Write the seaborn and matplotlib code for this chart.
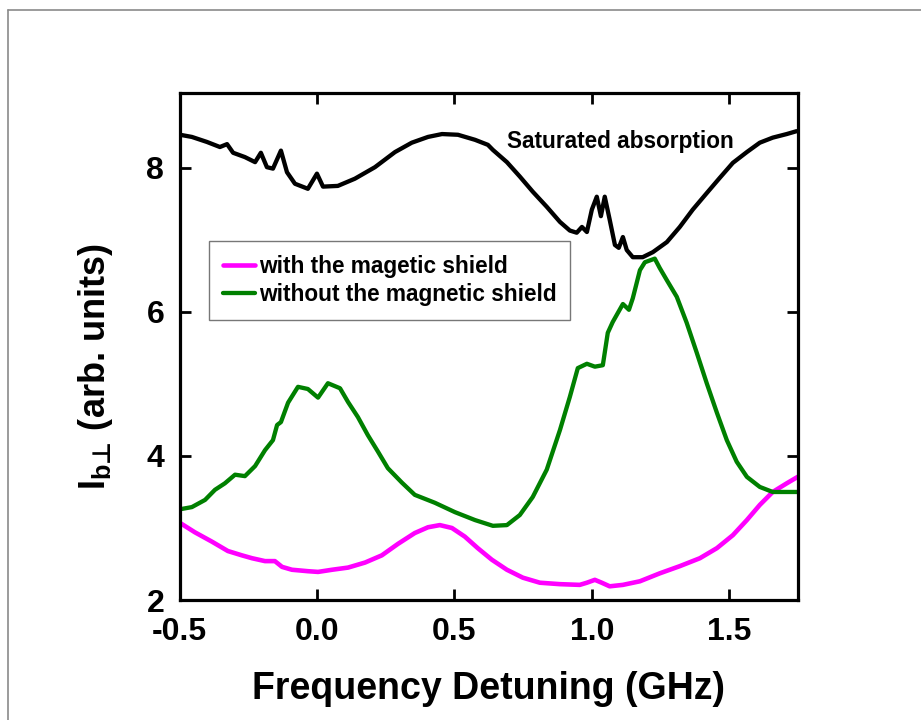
import numpy as np
import pandas as pd
import matplotlib
matplotlib.use("Agg")
import matplotlib.pyplot as plt
from matplotlib.lines import Line2D
import seaborn as sns

sat_x = [-0.498, -0.455, -0.400, -0.353, -0.327, -0.305, -0.262, -0.225, -0.204, -0.182,
         -0.160, -0.131, -0.109, -0.080, -0.033, 0.000, 0.022, 0.076, 0.138, 0.211,
         0.284, 0.345, 0.404, 0.455, 0.513, 0.575, 0.622, 0.640, 0.691, 0.738,
         0.785, 0.836, 0.884, 0.920, 0.945, 0.964, 0.982, 1.000, 1.018, 1.033,
         1.047, 1.065, 1.084, 1.098, 1.113, 1.127, 1.149, 1.185, 1.222, 1.273,
         1.320, 1.367, 1.418, 1.465, 1.513, 1.564, 1.611, 1.658, 1.709, 1.745]
sat_y = [8.46, 8.43, 8.36, 8.29, 8.33, 8.21, 8.15, 8.08, 8.21, 8.01,
         7.99, 8.24, 7.94, 7.78, 7.71, 7.92, 7.74, 7.75, 7.85, 8.01,
         8.22, 8.35, 8.43, 8.47, 8.46, 8.39, 8.32, 8.25, 8.08, 7.88,
         7.67, 7.46, 7.25, 7.13, 7.10, 7.18, 7.11, 7.42, 7.60, 7.33,
         7.60, 7.28, 6.93, 6.89, 7.04, 6.86, 6.76, 6.76, 6.83, 6.97,
         7.18, 7.42, 7.65, 7.86, 8.07, 8.22, 8.35, 8.42, 8.47, 8.51]

without_x = [-0.498, -0.455, -0.407, -0.371, -0.335, -0.298, -0.262, -0.225, -0.189, -0.160,
             -0.145, -0.131, -0.105, -0.069, -0.033, 0.004, 0.040, 0.084, 0.113, 0.149,
             0.185, 0.222, 0.258, 0.309, 0.356, 0.429, 0.502, 0.575, 0.640, 0.691,
             0.738, 0.785, 0.836, 0.884, 0.920, 0.949, 0.982, 1.011, 1.040, 1.058,
             1.076, 1.113, 1.135, 1.149, 1.175, 1.193, 1.229, 1.247, 1.273, 1.309,
             1.345, 1.382, 1.418, 1.455, 1.491, 1.527, 1.564, 1.611, 1.658, 1.749]
without_y = [3.26, 3.29, 3.39, 3.53, 3.62, 3.74, 3.72, 3.86, 4.08, 4.22,
             4.43, 4.47, 4.74, 4.96, 4.93, 4.81, 5.01, 4.94, 4.75, 4.54,
             4.29, 4.06, 3.83, 3.63, 3.46, 3.35, 3.22, 3.11, 3.03, 3.04,
             3.18, 3.43, 3.81, 4.36, 4.82, 5.22, 5.28, 5.24, 5.26, 5.71,
             5.86, 6.11, 6.03, 6.19, 6.58, 6.69, 6.74, 6.61, 6.44, 6.21,
             5.85, 5.43, 5.01, 4.60, 4.22, 3.92, 3.71, 3.57, 3.50, 3.50]

with_x = [-0.498, -0.444, -0.382, -0.324, -0.273, -0.236, -0.189, -0.153, -0.127, -0.091,
          -0.033, 0.004, 0.055, 0.113, 0.175, 0.236, 0.295, 0.356, 0.404, 0.447,
          0.491, 0.538, 0.585, 0.636, 0.691, 0.749, 0.811, 0.884, 0.956, 0.982,
          1.011, 1.036, 1.065, 1.113, 1.175, 1.247, 1.320, 1.393, 1.455, 1.513,
          1.564, 1.611, 1.658, 1.709, 1.749]
with_y = [3.07, 2.94, 2.81, 2.68, 2.62, 2.58, 2.54, 2.54, 2.46, 2.42,
          2.40, 2.39, 2.42, 2.45, 2.52, 2.62, 2.78, 2.93, 3.01, 3.04,
          3.00, 2.88, 2.72, 2.56, 2.42, 2.31, 2.24, 2.22, 2.21, 2.24,
          2.28, 2.24, 2.19, 2.21, 2.26, 2.37, 2.47, 2.58, 2.72, 2.90,
          3.11, 3.32, 3.50, 3.62, 3.71]

x_ticks = [-0.5, 0.0, 0.5, 1.0, 1.5]
x_ticklabels = ['-0.5', '0.0', '0.5', '1.0', '1.5']
y_ticks = [2, 4, 6, 8]

sns.set_style("ticks")
plt.rcParams['font.family'] = ['Liberation Sans', 'DejaVu Sans']
plt.rcParams['font.weight'] = 'bold'
plt.rcParams['text.color'] = 'black'
plt.rcParams['axes.labelcolor'] = 'black'
plt.rcParams['xtick.color'] = 'black'
plt.rcParams['ytick.color'] = 'black'
plt.rcParams['mathtext.fontset'] = 'custom'
plt.rcParams['mathtext.rm'] = 'Liberation Sans:bold'
plt.rcParams['mathtext.bf'] = 'Liberation Sans:bold'
plt.rcParams['mathtext.it'] = 'Liberation Sans:bold'
plt.rcParams['mathtext.sf'] = 'DejaVu Sans'

fig = plt.figure(figsize=(9.21, 7.2), dpi=100)
ax = fig.add_axes([179.5/921, 120/720, (798-179.5)/921, (600-93)/720])

# figure frame
fig.add_artist(Line2D([8/921, 8/921], [0, 1-10/720], transform=fig.transFigure, color='#8a8a8a', lw=1.2))
fig.add_artist(Line2D([8/921, 1], [1-10/720, 1-10/720], transform=fig.transFigure, color='#8a8a8a', lw=1.2))

sns.lineplot(x=sat_x, y=sat_y, ax=ax, color='black', lw=3.1, sort=False, estimator=None)
sns.lineplot(x=with_x, y=with_y, ax=ax, color='#ff00ff', lw=3.3, sort=False, estimator=None,
             label='with the magetic shield')
sns.lineplot(x=without_x, y=without_y, ax=ax, color='#008000', lw=3.1, sort=False, estimator=None,
             label='without the magnetic shield')

ax.set_xlim(-0.5, 1.75)
ax.set_ylim(2, 9.04)
ax.set_xticks(x_ticks)
ax.set_xticklabels(x_ticklabels)
ax.set_yticks(y_ticks)
ax.set_yticklabels([str(v) for v in y_ticks])
ax.tick_params(direction='in', length=8, width=2, top=True, right=True,
               labelsize=23, colors='black')
ax.tick_params(axis='x', pad=12)
ax.tick_params(axis='y', pad=11)
for lab in ax.get_xticklabels() + ax.get_yticklabels():
    lab.set_fontweight('bold')
for s in ax.spines.values():
    s.set_linewidth(2.3)
    s.set_color('black')

ax.set_xlabel('Frequency Detuning (GHz)', fontsize=27, fontweight='bold', color='black')
ax.xaxis.set_label_coords(0.5, -0.14)
ax.set_ylabel(r'$\mathbf{I}_{\mathbf{b}\mathsf{⊥}}$ (arb. units)', fontsize=26, fontweight='bold', color='black')
ax.yaxis.set_label_coords(-0.104, 0.46)

ax.text(1.105, 8.36, 'Saturated absorption', fontsize=16.3, fontweight='bold',
        ha='center', va='center', color='black')

leg = ax.legend(loc='upper left', bbox_to_anchor=((209-179.5)/618.5, (600-241)/507),
                borderaxespad=0, fontsize=16.3, frameon=True, fancybox=False,
                handlelength=1.45, handletextpad=0.15, borderpad=0.6, labelspacing=0.25)
leg.get_frame().set_edgecolor('#555555')
leg.get_frame().set_linewidth(1.0)
for t in leg.get_texts():
    t.set_fontweight('bold')
    t.set_color('black')

fig.savefig('out.png', dpi=100)
